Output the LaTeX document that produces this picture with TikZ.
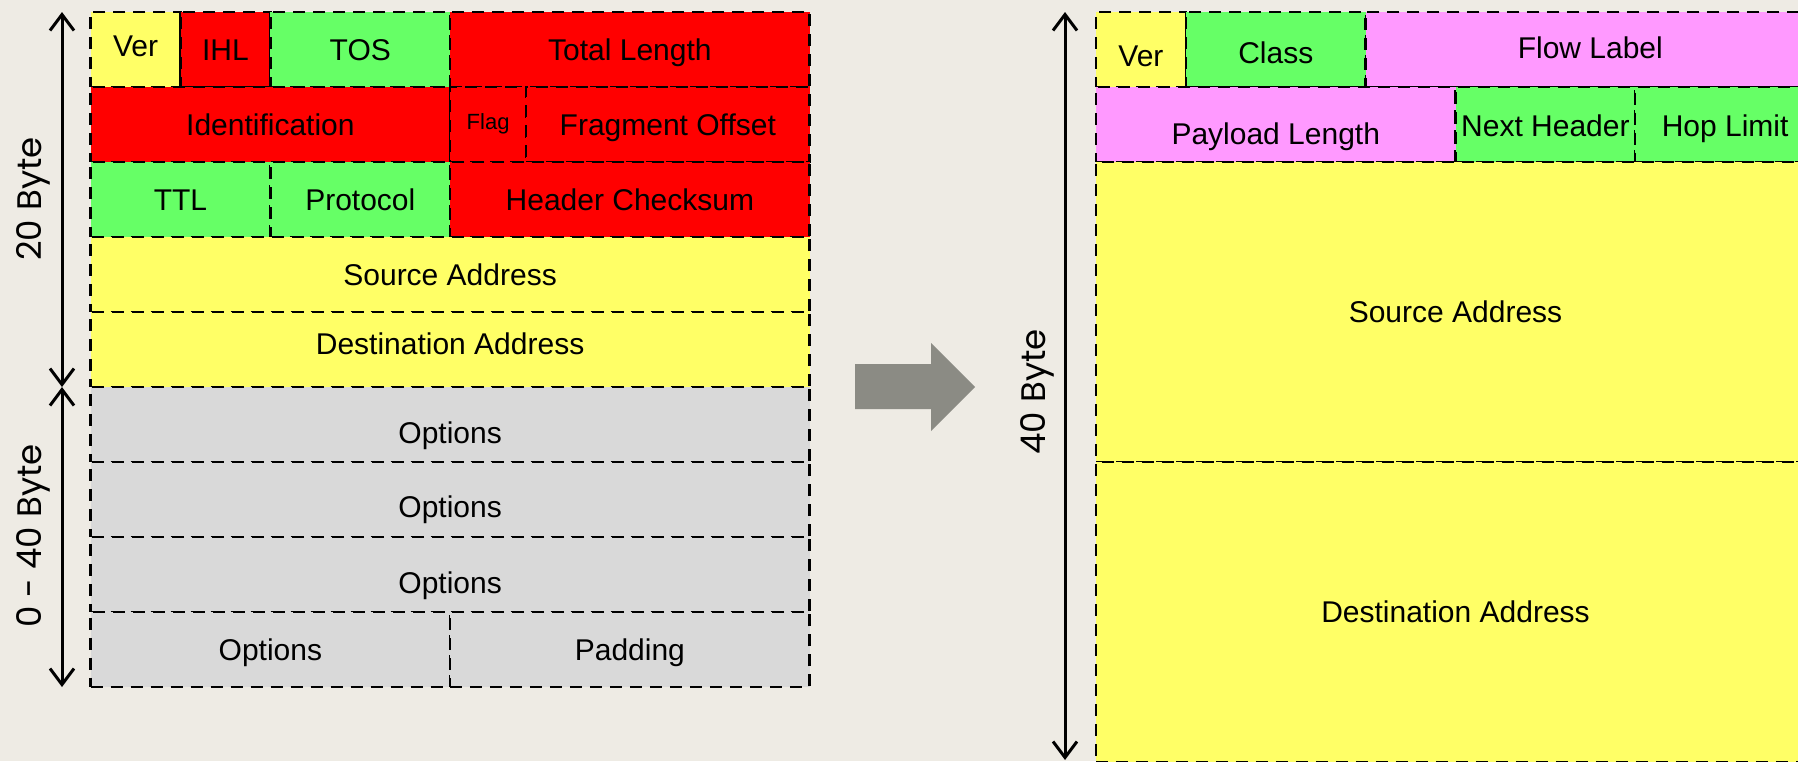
\documentclass[tikz,border=0pt]{standalone}
\usepackage{fontspec}
\setmainfont{Liberation Sans}
\newfontfamily\bytefont{Poppins}
\usetikzlibrary{arrows.meta}

\definecolor{bgcol}{HTML}{EEEBE4}
\definecolor{fyellow}{HTML}{FFFF66}
\definecolor{fred}{HTML}{FF0000}
\definecolor{fgreen}{HTML}{66FF66}
\definecolor{fgrey}{HTML}{D9D9D9}
\definecolor{fpink}{HTML}{FF99FF}
\definecolor{arrowgrey}{HTML}{8B8B84}

\tikzset{
    field/.style={draw, line width=2.3pt, dash pattern=on 12pt off 8pt,
        inner sep=0pt, outer sep=0pt, anchor=north west, minimum height=75pt,
        text height=21pt, text depth=0pt, font=\fontsize{30}{35}\selectfont},
    dimline/.style={line width=3pt,
        {Straight Barb[length=16pt,width=24pt]}-{Straight Barb[length=16pt,width=24pt]}},
    bytelabel/.style={rotate=90, inner sep=0pt, font=\bytefont\fontsize{34}{40}\selectfont}
}

\begin{document}
\begin{tikzpicture}[x=1pt, y=-1pt]
    \useasboundingbox (0,0) rectangle (1798,761);
    \clip (0,0) rectangle (1798,761);
    \fill[bgcol] (0,0) rectangle (1798,761);

    % IPv4 header
    \node[field, fill=fyellow, minimum width=89.9pt, text depth=7pt] (v4ver) at (90.6,12) {Ver};
    \node[field, fill=fred, minimum width=89.9pt] (v4ihl) at (180.5,12) {IHL};
    \node[field, fill=fgreen, minimum width=179.8pt] (v4tos) at (270.4,12) {TOS};
    \node[field, fill=fred, minimum width=359.4pt] (v4len) at (450.2,12) {Total Length};
    \node[field, fill=fred, minimum width=359.6pt] (v4id) at (90.6,87) {Identification};
    \node[field, fill=fred, minimum width=75.8pt, text height=16pt, text depth=6pt,
        font=\fontsize{22}{26}\selectfont] (v4flag) at (450.2,87) {Flag};
    \node[field, fill=fred, minimum width=283.6pt] (v4frag) at (526,87) {Fragment Offset};
    \node[field, fill=fgreen, minimum width=179.8pt] (v4ttl) at (90.6,162) {TTL};
    \node[field, fill=fgreen, minimum width=179.8pt] (v4proto) at (270.4,162) {Protocol};
    \node[field, fill=fred, minimum width=359.4pt] (v4sum) at (450.2,162) {Header Checksum};
    \node[field, fill=fyellow, minimum width=719pt] (v4src) at (90.6,237) {Source Address};
    \node[field, fill=fyellow, minimum width=719pt, text depth=11pt] (v4dst) at (90.6,312) {Destination Address};
    \node[field, fill=fgrey, minimum width=719pt, text height=37pt] (v4opta) at (90.6,387) {Options};
    \node[field, fill=fgrey, minimum width=719pt, text height=35pt] (v4optb) at (90.6,462) {Options};
    \node[field, fill=fgrey, minimum width=719pt, text height=37pt] (v4optc) at (90.6,537) {Options};
    \node[field, fill=fgrey, minimum width=359.6pt] (v4optd) at (90.6,612) {Options};
    \node[field, fill=fgrey, minimum width=359.4pt] (v4pad) at (450.2,612) {Padding};

    \coordinate (v4top) at (62,12);
    \coordinate (v4mid) at (62,387);
    \coordinate (v4bot) at (62,687);
    \draw[dimline] (v4top) -- (v4mid);
    \draw[dimline] (v4mid) -- (v4bot);
    \node[bytelabel] (v4fix) at (33,199) {20 Byte};
    \node[bytelabel] (v4var) at (33,536) {0 - 40 Byte};

    % conversion arrow
    \fill[arrowgrey] (855,364) -- (931,364) -- (931,343) -- (975,387) -- (931,431)
        -- (931,409) -- (855,409) -- cycle;

    % IPv6 header
    \node[field, fill=fyellow, minimum width=89.9pt, text height=34pt] (v6ver) at (1096,12) {Ver};
    \node[field, fill=fgreen, minimum width=179.8pt, text height=27pt] (v6class) at (1185.9,12) {Class};
    \node[field, fill=fpink, minimum width=449.4pt, text depth=3pt] (v6flow) at (1365.6,12) {Flow Label};
    \node[field, fill=fpink, minimum width=359.5pt, text height=40pt] (v6plen) at (1096,87) {Payload Length};
    \node[field, fill=fgreen, minimum width=179.8pt, text height=24pt] (v6next) at (1455.5,87) {Next Header};
    \node[field, fill=fgreen, minimum width=179.7pt, text height=24pt] (v6hop) at (1635.3,87) {Hop Limit};
    \node[field, fill=fyellow, minimum width=719pt, minimum height=300pt] (v6src) at (1096,162) {Source Address};
    \node[field, fill=fyellow, minimum width=719pt, minimum height=300pt] (v6dst) at (1096,462) {Destination Address};

    \coordinate (v6top) at (1065,12);
    \coordinate (v6bot) at (1065,760);
    \draw[dimline] (v6top) -- (v6bot);
    \node[bytelabel] (v6fix) at (1037,392) {40 Byte};
\end{tikzpicture}
\end{document}
